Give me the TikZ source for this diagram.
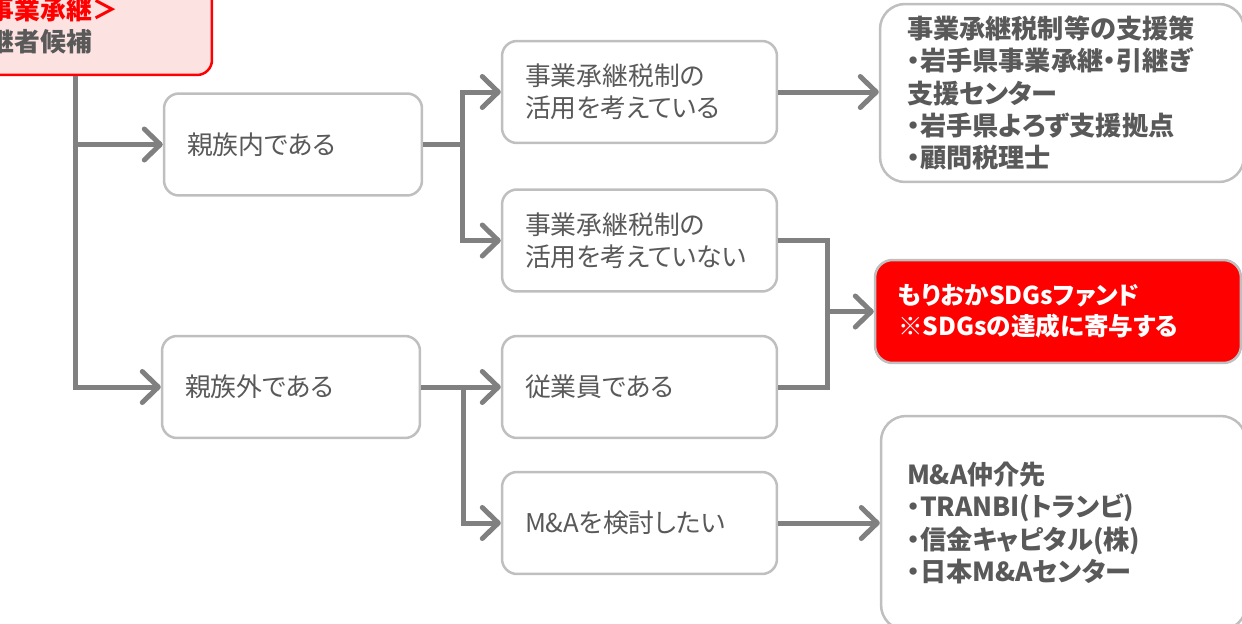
\documentclass[tikz,border=0pt]{standalone}
\usepackage{fontspec}
\setmainfont{Noto Sans CJK JP}[RawFeature=+palt]
\usepackage{tikz}
\usetikzlibrary{
	arrows.meta,
	calc
}
\definecolor{boxgray}{HTML}{BFBFBF}
\definecolor{textgray}{HTML}{595959}
\definecolor{linegray}{HTML}{808080}
\definecolor{pinkfill}{HTML}{FDE2E2}
\definecolor{fundred}{HTML}{FF0000}
\tikzset{
	choice/.style={
		draw=boxgray,
		line width=.05cm,
		rounded corners=.3cm,
		fill=white,
		text=textgray,
		align=left,
		inner xsep=.46cm,
		minimum height=2.04cm,
		font=\fontsize{14.7pt}{18.1pt}\selectfont
	},
	support/.style={
		choice,
		rounded corners=.5cm,
		font=\fontsize{14.9pt}{18.4pt}\selectfont\bfseries
	},
	conn/.style={
		draw=linegray,
		line width=.1cm
	},
	flow/.style={
		-{Straight Barb[length=.32cm,width=.62cm,round]}
	}
}
\begin{document}
\begin{tikzpicture}[ %%%%%%%% SUCCESSION FLOW
		x=.02cm,
		y=-.02cm
		]
		\useasboundingbox (0,0) rectangle (1242,623);
		\clip (0,0) rectangle (1242,623);
		% boxes
		\node[choice, draw=fundred, fill=pinkfill, text width=4.48cm, inner xsep=.5cm, minimum height=1.96cm,
			font=\fontsize{14.7pt}{18.4pt}\selectfont\bfseries] (tl) at (75,26)
			{\textcolor{fundred}{＜事業承継＞}\\後継者候補};
		\node[choice, text width=4.24cm] (b1) at (293,144.5) {親族内である};
		\node[choice, text width=4.24cm] (b2) at (291,387) {親族外である};
		\node[choice, text width=4.58cm] (b3) at (639.5,92) {事業承継税制の\\活用を考えている};
		\node[choice, text width=4.58cm] (b4) at (639.5,240.5) {事業承継税制の\\活用を考えていない};
		\node[choice, text width=4.58cm] (b5) at (639.5,387) {従業員である};
		\node[choice, text width=4.58cm] (b6) at (639.5,523) {M\&Aを検討したい};
		\node[support, text width=6.2cm, inner xsep=.54cm, minimum height=3.56cm] (r1) at (1062,93)
			{事業承継税制等の支援策\\・岩手県事業承継・引継ぎ\\支援センター\\・岩手県よろず支援拠点\\・顧問税理士};
		\node[support, fill=fundred, text=white, rounded corners=.35cm, text width=6.4cm, minimum height=2.06cm,
			font=\fontsize{14pt}{17.6pt}\selectfont\bfseries] (r2) at (1058,311.5)
			{もりおかSDGsファンド\\※SDGsの達成に寄与する};
		\node[support, text width=6.26cm, inner xsep=.52cm, minimum height=4.28cm] (r3) at (1063.5,523)
			{M\&A仲介先\\・TRANBI(トランビ)\\・信金キャピタル(株)\\・日本M\&Aセンター};
		% connectors
		\coordinate (t1) at (tl.south |- b1.west);
		\draw[conn, flow] (tl.south) |- (b2.west);
		\draw[conn, flow] (t1) -- (b1.west);
		\draw[conn] (b1.east) -- ++(39,0) coordinate (s1);
		\draw[conn, flow] (s1) |- (b3.west);
		\draw[conn, flow] (s1) |- (b4.west);
		\draw[conn] (b2.east) -- ++(42,0) coordinate (s2);
		\draw[conn, flow] (s2) -- (b5.west);
		\draw[conn, flow] (s2) |- (b6.west);
		\draw[conn] (b4.east) -- ++(49,0) coordinate (m1) |- (b5.east);
		\draw[conn, flow] (m1 |- r2.west) -- (r2.west);
		\draw[conn, flow] (b3.east) -- (b3.east -| r1.west);
		\draw[conn, flow] (b6.east) -- (r3.west);
	\end{tikzpicture}
\end{document}
